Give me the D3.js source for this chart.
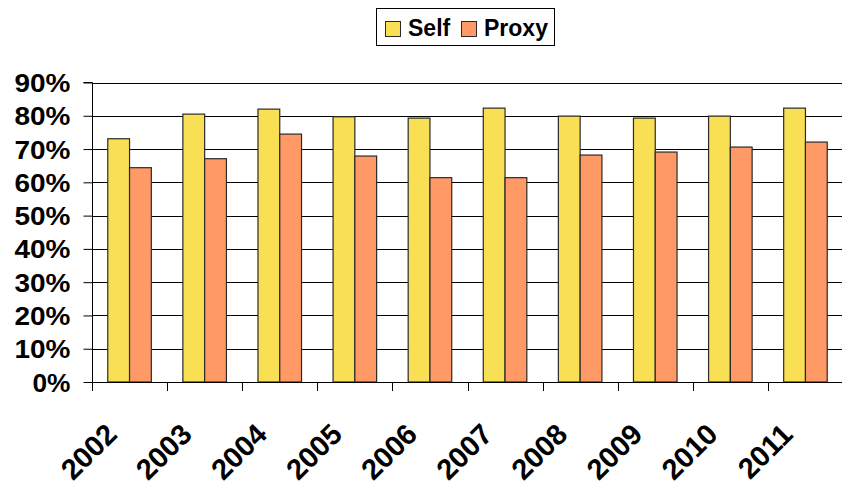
<!DOCTYPE html>
<html>
<head>
<meta charset="utf-8">
<script src="https://cdn.jsdelivr.net/npm/d3@7"></script>
<style>
  html, body { margin: 0; padding: 0; background: #fff; }
  svg { display: block; }
  text { font-family: Arial, "Liberation Sans", sans-serif; font-weight: bold; fill: #000; }
</style>
</head>
<body>
<svg id="chart" width="842" height="485"></svg>
<script>
// Share of responses by respondent type, per survey year
const years = ["2002", "2003", "2004", "2005", "2006", "2007", "2008", "2009", "2010", "2011"];
const seriesNames = ["Self", "Proxy"];
const selfValues = [73.1, 80.5, 82.0, 79.7, 79.3, 82.3, 79.9, 79.3, 79.9, 82.3];
const proxyValues = [64.4, 67.1, 74.5, 67.9, 61.4, 61.4, 68.2, 69.1, 70.6, 72.1];
const yTicks = [0, 10, 20, 30, 40, 50, 60, 70, 80, 90];
const colors = ["#F9DF53", "#FF9966"];

const svg = d3.select("#chart");
const plotLeft = 92, plotRight = 843, plotTop = 82.5, plotBottom = 382;

const x = d3.scaleBand().domain(years).range([plotLeft, plotRight]).paddingInner(0).paddingOuter(0);
const groupPad = 0.21;
const x1 = d3.scaleBand().domain(seriesNames)
  .range([x.bandwidth() * groupPad, x.bandwidth() * (1 - groupPad)]);
const y = d3.scaleLinear().domain([0, 90]).range([plotBottom, plotTop]);

// horizontal gridlines
svg.append("g")
  .selectAll("line")
  .data(yTicks.filter(d => d > 0))
  .join("line")
  .attr("x1", plotLeft).attr("x2", 842)
  .attr("y1", d => Math.round(y(d)) + 0.5).attr("y2", d => Math.round(y(d)) + 0.5)
  .attr("stroke", "#000").attr("stroke-width", 1);

// bars
const rows = years.map((yr, i) => ({ year: yr, values: [selfValues[i], proxyValues[i]] }));
const groups = svg.append("g").selectAll("g")
  .data(rows).join("g")
  .attr("transform", d => `translate(${x(d.year)},0)`);

groups.selectAll("rect")
  .data(d => d.values.map((v, j) => ({ name: seriesNames[j], value: v, color: colors[j] })))
  .join("rect")
  .attr("x", d => x1(d.name))
  .attr("y", d => y(d.value))
  .attr("width", x1.bandwidth())
  .attr("height", d => y(0) - y(d.value))
  .attr("fill", d => d.color)
  .attr("stroke", "#2a2a2a")
  .attr("stroke-width", 1.2);

// y axis
const yAxis = d3.axisLeft(y).tickValues(yTicks).tickSize(9).tickPadding(13)
  .tickFormat(d => d + "%");
const gy = svg.append("g").attr("transform", `translate(${plotLeft + 0.5},0)`).call(yAxis);
gy.select(".domain").attr("stroke", "#000").attr("d", `M-9,${plotTop}H0V${plotBottom}`);
gy.selectAll(".tick line").attr("stroke", "#000");
gy.selectAll(".tick text")
  .style("font-size", "25px").style("font-family", "Arial, 'Liberation Sans', sans-serif")
  .style("font-weight", "bold").attr("fill", "#000").attr("dy", "0.36em")
  .attr("textLength", d => d === 0 ? 38 : 56)
  .attr("lengthAdjust", "spacingAndGlyphs");

// x axis with ticks at category boundaries
svg.append("line")
  .attr("x1", plotLeft).attr("x2", 842)
  .attr("y1", plotBottom + 0.5).attr("y2", plotBottom + 0.5)
  .attr("stroke", "#000");
svg.append("g").selectAll("line")
  .data(years)
  .join("line")
  .attr("x1", d => Math.round(x(d)) + 0.5).attr("x2", d => Math.round(x(d)) + 0.5)
  .attr("y1", plotBottom).attr("y2", plotBottom + 9)
  .attr("stroke", "#000");

svg.append("g").selectAll("text")
  .data(years)
  .join("text")
  .attr("transform", d => `translate(${x(d) + x.bandwidth() / 2 - 11},${plotBottom + 54}) rotate(-45)`)
  .attr("text-anchor", "end")
  .style("font-size", "29px")
  .text(d => d);

// legend
const lg = svg.append("g");
lg.append("rect")
  .attr("x", 376.5).attr("y", 8.5).attr("width", 178).attr("height", 37)
  .attr("fill", "#fff").attr("stroke", "#000");
const legendPos = [{ sx: 385, tx: 408 }, { sx: 461, tx: 484 }];
seriesNames.forEach((name, i) => {
  lg.append("rect")
    .attr("x", legendPos[i].sx + 0.5).attr("y", 21.5).attr("width", 15).attr("height", 15)
    .attr("fill", colors[i]).attr("stroke", "#2a2a2a");
  lg.append("text")
    .attr("x", legendPos[i].tx).attr("y", 36)
    .style("font-size", "23px")
    .text(name);
});
</script>
</body>
</html>
